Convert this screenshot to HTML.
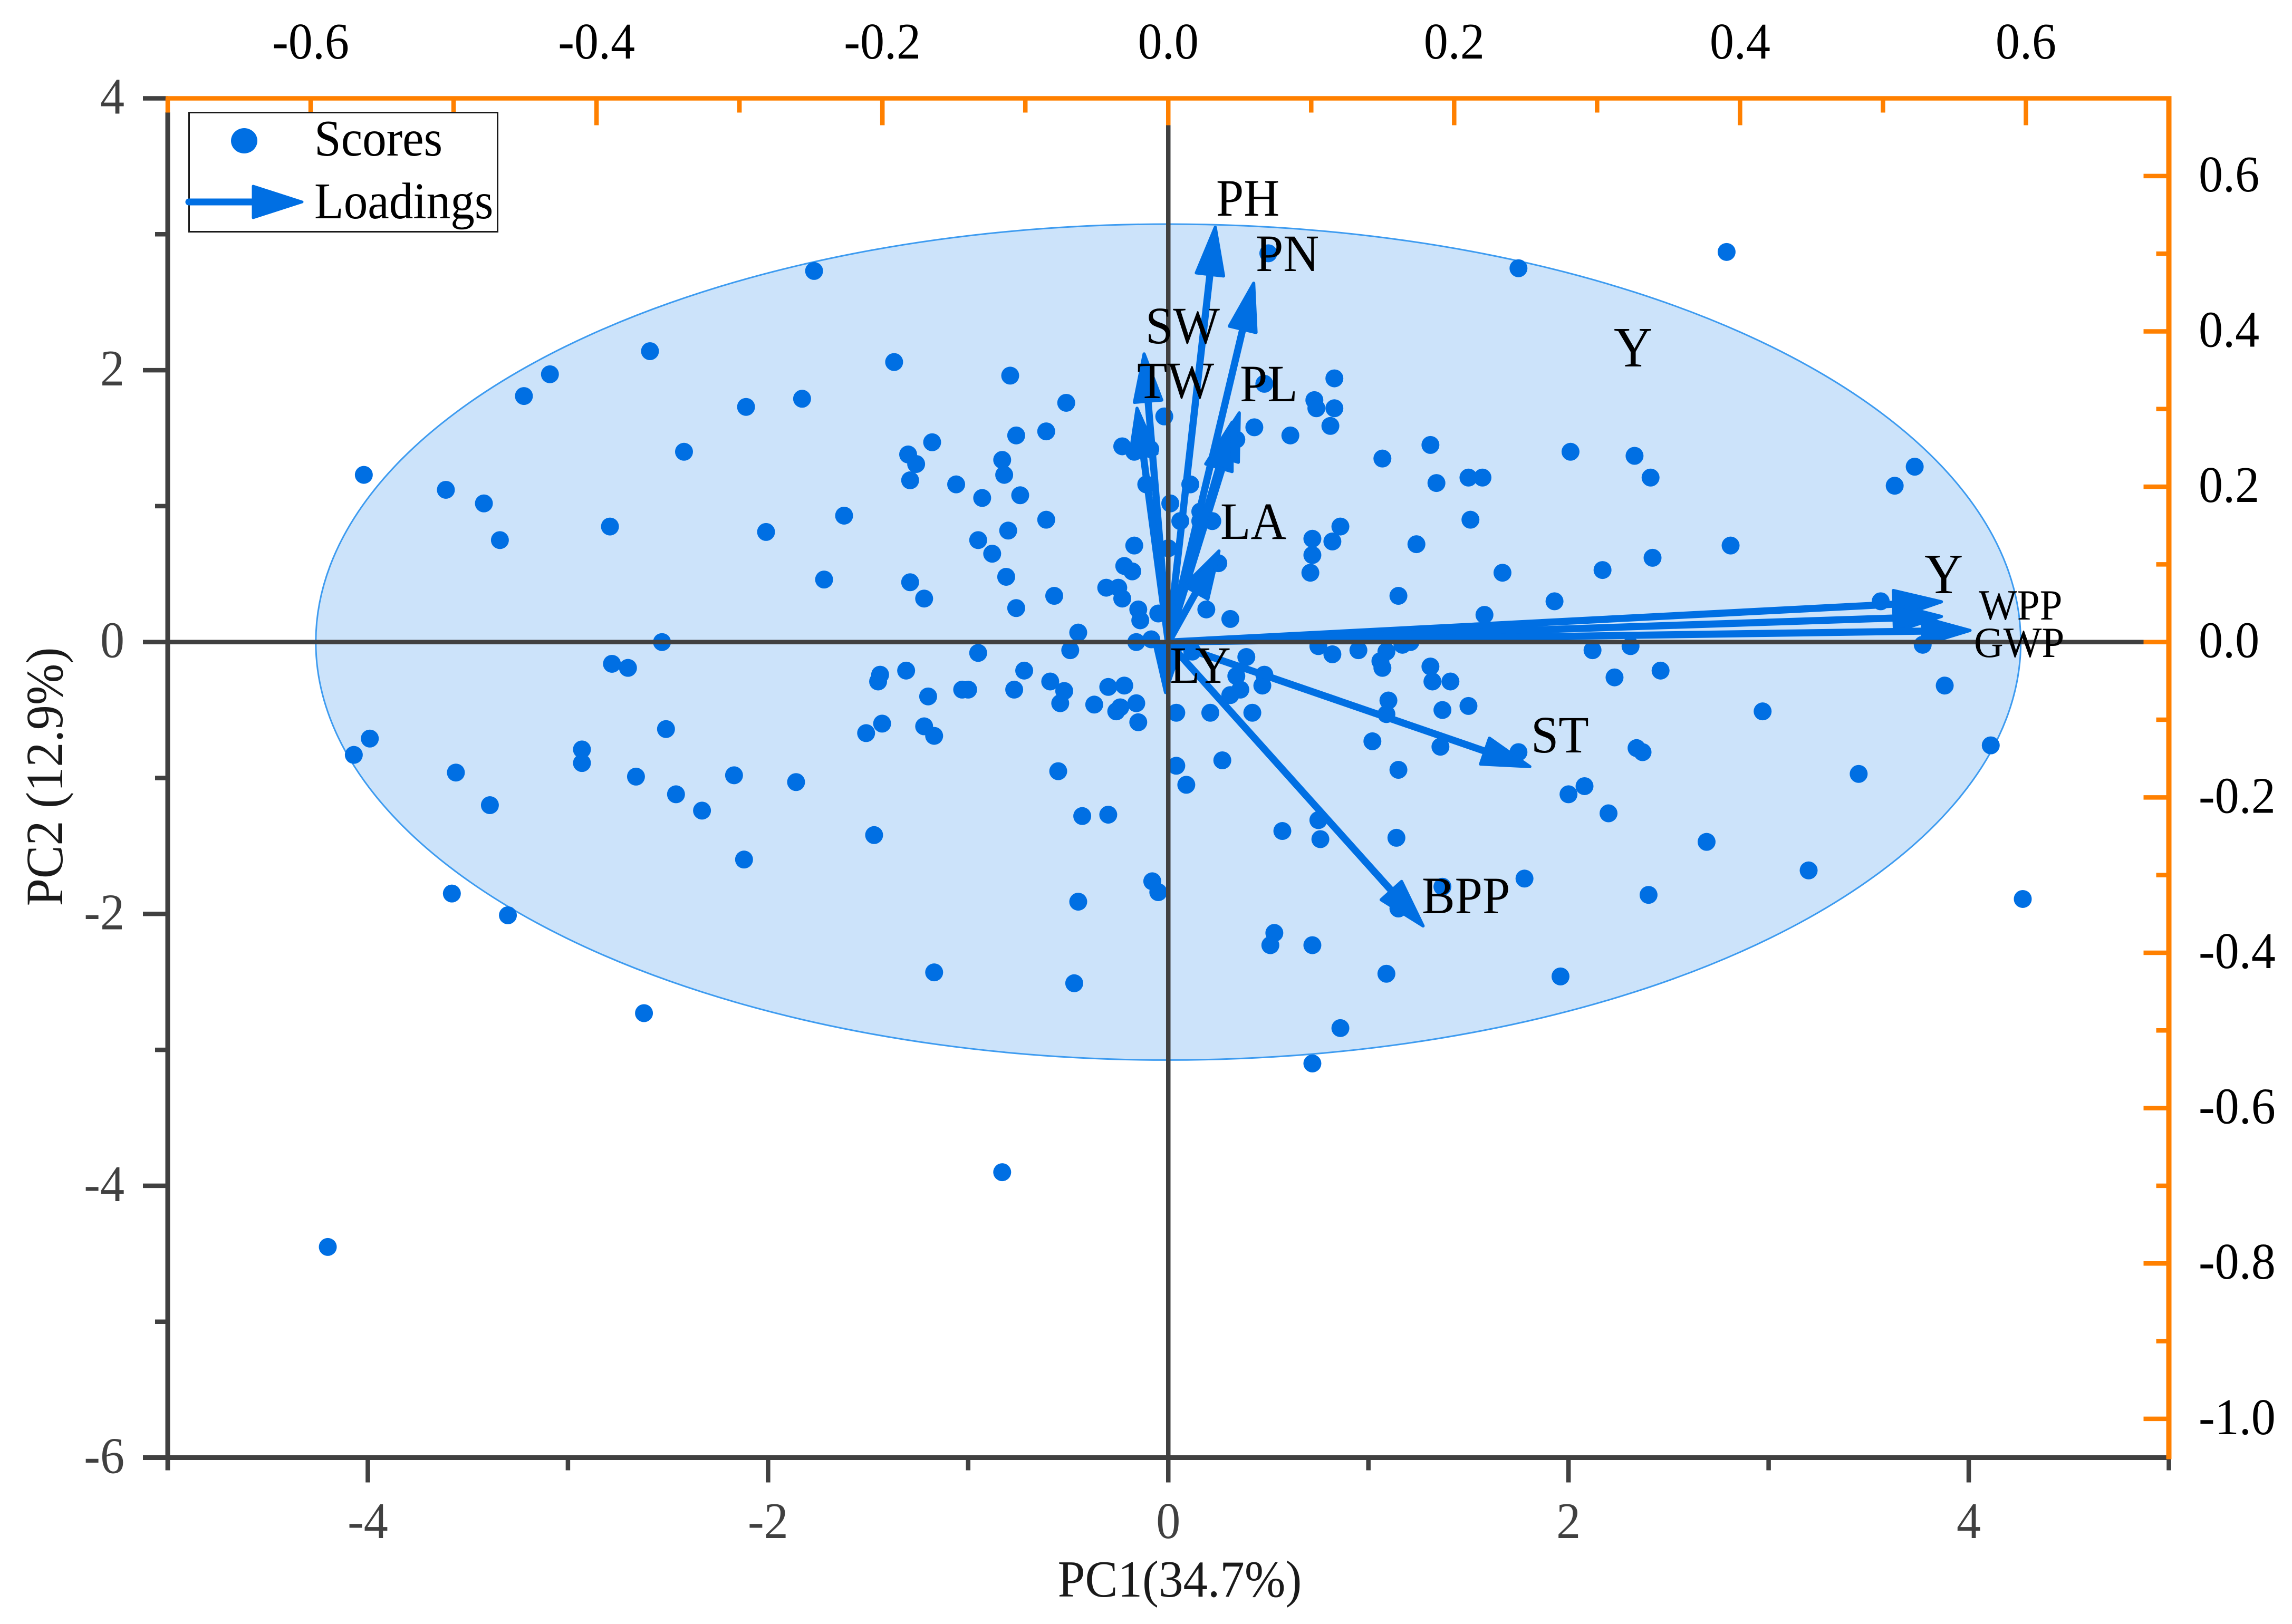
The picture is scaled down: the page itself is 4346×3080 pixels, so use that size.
<!DOCTYPE html>
<html lang="en">
<head>
<meta charset="utf-8">
<title>PCA biplot</title>
<style>
html,body{margin:0;padding:0;background:#fff;}
svg{display:block;}
text{font-family:"Liberation Serif",serif;}
</style>
</head>
<body>
<svg id="chart" xmlns="http://www.w3.org/2000/svg" width="4346" height="3080" viewBox="0 0 4346 3080">
  <rect width="4346" height="3080" fill="#ffffff"/>
  <g id="ellipse-layer"></g>
  <g id="points-layer"></g>
  <g id="arrows-layer"></g>
  <g id="axes-layer"></g>

  <g font-size="100" fill="#000">
    <text x="2306" y="409">PH</text>
    <text x="2381" y="514">PN</text>
    <text x="2172" y="651">SW</text>
    <text x="2156" y="755">TW</text>
    <text x="2351" y="761">PL</text>
    <text x="2314" y="1022">LA</text>
    <text x="2218" y="1295">LY</text>
    <text x="2903" y="1427">ST</text>
    <text x="2696" y="1732">BPP</text>
    <text x="3060" y="695" font-size="108">Y</text>
    <text x="3649" y="1125" font-size="108">Y</text>
    <text x="3752" y="1175" font-size="82">WPP</text>
    <text x="3743" y="1246" font-size="82">GWP</text>
  </g>

  <text x="2237" y="3028" font-size="99" text-anchor="middle" fill="#1a1a1a">PC1(34.7%)</text>
  <text transform="translate(118,1473) rotate(-90) scale(0.94,1)" font-size="100" text-anchor="middle" fill="#1a1a1a">PC2 (12.9%)</text>

  <g>
    <rect x="358.5" y="213.5" width="585" height="226" fill="#ffffff" stroke="#1a1a1a" stroke-width="3"/>
    <ellipse cx="463" cy="267" rx="25" ry="24" fill="#006fe3"/>
    <text x="596" y="295" font-size="97" fill="#000">Scores</text>
    <line x1="358" y1="383" x2="490" y2="383" stroke="#006fe3" stroke-width="13" stroke-linecap="round"/>
    <polygon points="480,353 573,383 480,413" fill="#006fe3" stroke="#006fe3" stroke-width="5" stroke-linejoin="round"/>
    <text x="596" y="414" font-size="97" fill="#000">Loadings</text>
  </g>
</svg>

<script>
// Score values (PC1, PC2)
const scoreX = [
-1.77,-2.59,-3.09,-3.22,-2.11,-1.83,-1.37,-0.79,-0.51,-0.61,-0.76,-1.18,-0.23,-1.30,-0.83,-1.26,-2.42,-4.02,-0.82,-1.29,
-1.06,-0.93,-0.74,-0.11,-3.61,-3.42,-1.62,-0.61,-2.79,-2.01,-3.34,-0.80,-0.95,-0.17,-0.88,-0.22,-0.18,-0.81,-1.72,-1.29,
-0.31,-0.25,-0.57,-0.23,-1.22,-0.15,-0.76,-0.14,-0.45,-2.53,-0.16,-0.95,-0.49,-2.78,-2.70,-1.31,-1.44,-1.45,-0.72,-0.59,
-0.30,-0.22,-1.03,-1.00,-0.77,-0.52,-1.20,-0.54,-0.37,-0.16,-0.24,-0.26,-0.15,-2.51,-1.43,-1.51,-1.22,-1.17,-3.99,-4.07,
-2.93,-2.93,-3.56,-2.17,-2.66,-0.55,-1.86,-2.46,-3.39,-2.33,-0.43,-0.30,-1.47,-2.12,-0.08,-0.05,-3.58,-0.45,-3.30,-1.17,
-0.47,-2.62,-0.83,-4.20,-0.085,-0.17,3.77,
2.79,1.75,0.50,0.83,0.48,0.73,0.74,0.83,0.81,-0.02,0.43,0.61,0.34,2.01,1.31,1.07,2.33,-0.09,2.41,1.50,
1.57,1.34,3.73,3.63,0.11,0.01,0.16,0.22,0.06,0.16,1.51,0.86,0.72,0.82,0.00,1.24,2.81,0.72,2.42,0.25,
0.71,2.17,1.67,3.56,1.15,1.93,0.19,0.31,1.58,-0.05,0.75,0.82,0.95,1.09,1.17,1.21,2.12,2.31,2.46,0.39,
0.12,1.06,1.07,1.31,1.32,1.41,2.23,0.34,0.48,0.47,0.36,0.31,3.88,1.10,1.50,1.37,0.21,0.42,0.04,1.09,
2.97,3.45,4.11,1.36,1.02,1.75,2.34,2.37,0.27,0.04,1.15,0.09,2.08,2.00,2.20,0.75,0.57,0.76,1.14,2.69,
3.20,1.78,1.37,2.40,1.15,4.27,0.53,0.51,0.72,1.09,1.96,0.86,0.72
];
const scoreY = [
2.73,2.14,1.97,1.81,1.73,1.79,2.06,1.96,1.76,1.55,1.52,1.47,1.44,1.38,1.34,1.31,1.40,1.23,1.23,1.19,
1.16,1.06,1.08,1.16,1.12,1.02,0.93,0.90,0.85,0.81,0.75,0.82,0.75,0.71,0.65,0.56,0.52,0.48,0.46,0.44,
0.40,0.40,0.34,0.32,0.32,0.24,0.25,0.16,0.07,0.00,0.00,-0.08,-0.06,-0.16,-0.19,-0.21,-0.24,-0.29,-0.21,-0.29,
-0.33,-0.32,-0.35,-0.35,-0.35,-0.36,-0.40,-0.45,-0.46,-0.45,-0.48,-0.51,-0.59,-0.64,-0.60,-0.67,-0.62,-0.69,-0.71,-0.83,
-0.79,-0.89,-0.96,-0.98,-0.99,-0.95,-1.03,-1.12,-1.20,-1.24,-1.28,-1.27,-1.42,-1.60,-1.76,-1.84,-1.85,-1.91,-2.01,-2.43,
-2.51,-2.73,-3.90,-4.45,0.02,1.40,-0.02,
2.87,2.75,2.86,1.94,1.90,1.78,1.72,1.72,1.59,1.66,1.58,1.52,1.49,1.40,1.45,1.35,1.37,1.42,1.21,1.21,
1.21,1.17,1.29,1.15,1.16,1.02,0.96,0.89,0.89,0.89,0.90,0.85,0.76,0.74,0.69,0.72,0.71,0.64,0.62,0.58,
0.51,0.53,0.51,0.30,0.34,0.30,0.24,0.17,0.20,0.21,-0.03,-0.09,-0.06,-0.07,-0.02,0.00,-0.06,-0.03,-0.21,-0.11,
-0.07,-0.14,-0.19,-0.18,-0.29,-0.29,-0.26,-0.25,-0.24,-0.32,-0.35,-0.39,-0.32,-0.43,-0.47,-0.50,-0.52,-0.52,-0.52,-0.53,
-0.51,-0.97,-0.76,-0.77,-0.73,-0.81,-0.78,-0.81,-0.87,-0.91,-0.94,-1.05,-1.06,-1.12,-1.26,-1.31,-1.39,-1.45,-1.44,-1.47,
-1.68,-1.74,-1.80,-1.86,-1.96,-1.89,-2.14,-2.23,-2.23,-2.44,-2.46,-2.84,-3.10
];

// Loading vectors
const loadingNames = ["PH","PN","SW","TW","PL","PL-2","LA","LY","ST","BPP","Y","WPP","GWP"];
const loadingX = [0.033,0.060,-0.017,-0.022,0.050,0.045,0.036,-0.002,0.254,0.179,0.542,0.542,0.562];
const loadingY = [0.536,0.464,0.373,0.303,0.297,0.285,0.119,-0.067,-0.161,-0.367,0.052,0.033,0.015];

// Confidence ellipse (semi-axes in score units)
const ellipseSemiAxes = [4.26, 3.075];

// Axis ticks
const bottomMajor = [-4,-2,0,2,4];
const bottomMinor = [-5,-3,-1,1,3,5];
const bottomLabels = ["-4","-2","0","2","4"];
const leftMajor = [4,2,0,-2,-4,-6];
const leftMinor = [3,1,-1,-3,-5];
const leftLabels = ["4","2","0","-2","-4","-6"];
const topMajor = [-0.6,-0.4,-0.2,0,0.2,0.4,0.6];
const topMinor = [-0.7,-0.5,-0.3,-0.1,0.1,0.3,0.5,0.7];
const topLabels = ["-0.6","-0.4","-0.2","0.0","0.2","0.4","0.6"];
const rightMajor = [0.6,0.4,0.2,0,-0.2,-0.4,-0.6,-0.8,-1.0];
const rightMinor = [0.5,0.3,0.1,-0.1,-0.3,-0.5,-0.7,-0.9];
const rightLabels = ["0.6","0.4","0.2","0.0","-0.2","-0.4","-0.6","-0.8","-1.0"];

// Axis functions
const plotLeft = 318, plotRight = 4112.5, plotTop = 186.5, plotBottom = 2764.5;
const xScale = v => plotLeft + (v + 5) / 10 * (plotRight - plotLeft);
const yScale = v => plotTop + (4 - v) / 10 * (plotBottom - plotTop);
const xLoad = v => plotLeft + (v + 0.7) / 1.4 * (plotRight - plotLeft);
const yLoad = v => plotTop + (0.7 - v) / 1.75 * (plotBottom - plotTop);

const NS = "http://www.w3.org/2000/svg";
const BLUE = "#006fe3", DARK = "#404040", ORANGE = "#ff8000";
const ellipseLayer = document.getElementById("ellipse-layer");
const pointsLayer = document.getElementById("points-layer");
const arrowsLayer = document.getElementById("arrows-layer");
const axesLayer = document.getElementById("axes-layer");

function make(tag, attrs, parent) {
  const el = document.createElementNS(NS, tag);
  for (const k in attrs) el.setAttribute(k, attrs[k]);
  parent.appendChild(el);
  return el;
}

// Ellipse
const ell = make("ellipse", {
  cx: xScale(0), cy: yScale(0),
  rx: xScale(ellipseSemiAxes[0]) - xScale(0),
  ry: yScale(0) - yScale(ellipseSemiAxes[1]),
  fill: "#cce3fa", stroke: "#3d9bf0", "stroke-width": 3
}, ellipseLayer);



// Points
scoreX.forEach((v, i) => {
  const p = make("ellipse", { cx: xScale(v), cy: yScale(scoreY[i]), rx: 17, ry: 17, fill: BLUE }, pointsLayer);
  
  
});

// Arrows
const headLength = 93, headHalf = 26;
loadingX.forEach((v, i) => {
  const x0 = xLoad(0), y0 = yLoad(0), x1 = xLoad(v), y1 = yLoad(loadingY[i]);
  const dx = x1 - x0, dy = y1 - y0, len = Math.hypot(dx, dy);
  const ux = dx / len, uy = dy / len;
  const bx = x1 - ux * headLength, by = y1 - uy * headLength;
  const g = make("g", {}, arrowsLayer);
  
  
  if (len > headLength) {
    const s = make("line", { x1: x0, y1: y0, x2: bx, y2: by, stroke: BLUE, "stroke-width": 13.5 }, g);
    
    
  }
  const pts = [
    [x1 - ux * 3, y1 - uy * 3],
    [bx - uy * headHalf, by + ux * headHalf],
    [bx + uy * headHalf, by - ux * headHalf]
  ].map(q => q.join(",")).join(" ");
  const h = make("polygon", { points: pts, fill: BLUE, stroke: BLUE, "stroke-width": 6, "stroke-linejoin": "round" }, g);
  
  
});

// Axes helpers
function seg(x1, y1, x2, y2, color, w, name) {
  const l = make("line", { x1: x1, y1: y1, x2: x2, y2: y2, stroke: color, "stroke-width": w }, axesLayer);
  
  
}
function label(str, x, y, anchor, color, name) {
  const t = make("text", { x: x, y: y, "text-anchor": anchor, "font-size": 98, fill: color }, axesLayer);
  t.textContent = str;
  
  
}

// Zero lines
seg(plotLeft, yScale(0), xLoad(0.7) - 48, yScale(0), DARK, 8.5, "zero-line-horizontal");
seg(xScale(0), plotTop + 51, xScale(0), plotBottom, DARK, 8.5, "zero-line-vertical");

// Left axis
seg(plotLeft, plotTop + 26, plotLeft, plotBottom, DARK, 9, "left-axis");
leftMajor.forEach((v, i) => {
  seg(plotLeft - 47, yScale(v), plotLeft, yScale(v), DARK, 8.5, "left-major-tick");
  label(leftLabels[i], plotLeft - 82, yScale(v) + 29, "end", DARK, "left-tick-label");
});
leftMinor.forEach(v => seg(plotLeft - 24, yScale(v), plotLeft, yScale(v), DARK, 8.5, "left-minor-tick"));

// Bottom axis
seg(plotLeft - 47, plotBottom, plotRight + 4, plotBottom, DARK, 9, "bottom-axis");
bottomMajor.forEach((v, i) => {
  seg(xScale(v), plotBottom, xScale(v), plotBottom + 47, DARK, 8.5, "bottom-major-tick");
  label(bottomLabels[i], xScale(v), 2917, "middle", DARK, "bottom-tick-label");
});
bottomMinor.forEach(v => seg(xScale(v), plotBottom, xScale(v), plotBottom + 24, DARK, 8.5, "bottom-minor-tick"));
seg(plotLeft, plotBottom, plotLeft, plotBottom + 24, DARK, 8.5, "bottom-minor-tick");

// Top axis
seg(plotLeft - 4, plotTop, plotRight + 5, plotTop, ORANGE, 8.5, "top-axis");
topMajor.forEach((v, i) => {
  seg(xLoad(v), plotTop, xLoad(v), plotTop + 51, ORANGE, 8.5, "top-major-tick");
  label(topLabels[i], xLoad(v), 111, "middle", "#000", "top-tick-label");
});
topMinor.forEach(v => seg(xLoad(v), plotTop, xLoad(v), plotTop + 27, ORANGE, 8.5, "top-minor-tick"));

// Right axis
seg(plotRight, plotTop, plotRight, plotBottom + 3, ORANGE, 10, "right-axis");
rightMajor.forEach((v, i) => {
  seg(plotRight - 48, yLoad(v), plotRight, yLoad(v), ORANGE, 8.5, "right-major-tick");
  label(rightLabels[i], 4169, yLoad(v) + 29, "start", "#000", "right-tick-label");
});
rightMinor.forEach(v => seg(plotRight - 24, yLoad(v), plotRight, yLoad(v), ORANGE, 8.5, "right-minor-tick"));

// The source figure's type is slightly condensed: narrow every horizontal label around its anchor
document.querySelectorAll("text").forEach(t => {
  if (t.hasAttribute("transform")) return;
  const x = t.getAttribute("x"), y = t.getAttribute("y");
  t.setAttribute("x", 0);
  t.setAttribute("y", 0);
  t.setAttribute("transform", "translate(" + x + "," + y + ") scale(0.94,1)");
});
</script>
</body>
</html>
